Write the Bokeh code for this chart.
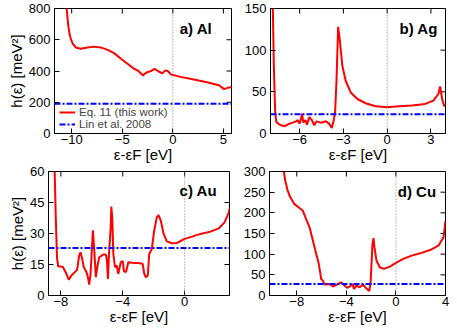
import math
from bokeh.plotting import figure
from bokeh.layouts import column, row
from bokeh.models import Span, Label, Range1d, FixedTicker, Legend, LegendItem
from bokeh.embed import file_html
from bokeh.resources import INLINE

# ---------------- data ----------------
al_x = [-10.5, -10.33, -10.16, -9.93, -9.6, -9.1, -8.46, -7.8, -7.16, -6.5, -5.85, -5.03, -4.38, -3.9,
        -3.4, -2.97, -2.6, -2.1, -1.8, -1.47, -1.05, -0.72, -0.5, -0.17, 0.65, 1.96, 3.26, 4.57, 5.06, 5.55, 5.8]
al_y = [800, 684, 621, 579, 551, 543, 551, 556, 551, 537, 516, 474, 442, 417,
        400, 372, 390, 402, 413, 400, 385, 404, 400, 377, 364, 347, 330, 309, 284, 295, 296]
ag_x = [-7.84, -7.77, -7.68, -7.6, -7.38, -7.04, -6.7, -6.47, -6.25, -6.13, -6.02, -5.9, -5.84, -5.75,
        -5.61, -5.5, -5.34, -5.16, -5.0, -4.84, -4.55, -4.2, -3.98, -3.8, -3.69, -3.57, -3.48, -3.36,
        -3.25, -3.07, -2.84, -2.5, -2.04, -1.48, -0.8, 0.0, 0.8, 1.7, 2.6, 3.17, 3.51, 3.63, 3.79, 3.92, 4.0]
ag_y = [150, 80.9, 25.7, 13.8, 10.7, 8.7, 11.8, 13, 14.6, 16, 11.8, 17.8, 23.7, 13,
        16, 10.7, 19.7, 16, 9.9, 14.6, 13, 14.6, 11.8, 6.7, 13.8, 25.7, 61, 128,
        112.5, 81, 63, 49.3, 41.4, 36.3, 32.8, 31.6, 32.8, 33.5, 35.5, 39.4, 47.4, 56.4, 39.4, 32.8, 34]
au_x = [-8.4, -8.33, -8.25, -8.18, -7.97, -7.86, -7.64, -7.49, -7.32, -7.1, -6.95, -6.82, -6.73, -6.62,
        -6.52, -6.34, -6.23, -6.17, -6.08, -6.0, -5.93, -5.84, -5.74, -5.65, -5.52, -5.26, -5.09, -5.02,
        -4.96, -4.89, -4.78, -4.74, -4.68, -4.61, -4.5, -4.39, -4.29, -4.13, -4.0, -3.92, -3.79, -3.64,
        -3.42, -2.88, -2.71, -2.62, -2.51, -2.38, -2.29, -2.12, -1.97, -1.8, -1.69, -1.54, -1.36, -1.15,
        -0.82, -0.5, 0.0, 0.48, 1.02, 1.67, 2.21, 2.58, 2.86, 2.92]
au_y = [60, 37.8, 18.5, 14.2, 14, 13.7, 10.5, 7.6, 9.7, 11.3, 12.4, 19.3, 20.9, 17.7,
        13.7, 11.3, 8, 5.3, 10.5, 21.7, 31.5, 21.7, 8.9, 13.7, 18.5, 19.8, 19.8, 16.9,
        8, 20.1, 33, 43, 37.8, 20.1, 13.7, 14.5, 10.5, 16.1, 16.6, 11.7, 11.3, 16.1,
        15.8, 15.6, 15.3, 10.8, 8.8, 9.7, 20.1, 22.5, 31.4, 37.8, 38.9, 36.2, 29.8, 26.2,
        25.3, 25.4, 27.4, 28.5, 29.8, 30.9, 32.5, 35.4, 40.2, 42.2]
cu_x = [-9.05, -8.92, -8.73, -8.51, -8.19, -7.78, -7.51, -7.3, -6.97, -6.7, -6.43, -6.22, -6.03, -5.89,
        -5.76, -5.35, -5.08, -4.81, -4.41, -4.14, -3.95, -3.73, -3.51, -3.38, -3.19, -2.92, -2.65, -2.43,
        -2.16, -2.05, -1.97, -1.89, -1.81, -1.73, -1.57, -1.3, -0.97, -0.49, 0.0, 0.59, 1.27, 1.95, 2.76,
        3.43, 3.84, 4.0]
cu_y = [300, 277, 253, 237, 221, 211.5, 205, 189, 165, 133, 100.5, 76, 40, 36,
        26.5, 28, 21.7, 25.7, 32, 24, 18.5, 21.7, 28, 16, 24, 20, 26.5, 18.5,
        10.5, 28, 76, 125, 139, 117, 84.5, 68.4, 64.3, 70, 78.8, 88.5, 96.5, 102, 110,
        120.6, 140.8, 180]

lin_al, lin_ag, lin_au, lin_cu = 190, 23, 23, 28

al_xlim, al_ylim = (-11.7, 5.8), (0, 800)
ag_xlim, ag_ylim = (-8.0, 4.0), (0, 150)
au_xlim, au_ylim = (-8.8, 2.9), (0, 60)
cu_xlim, cu_ylim = (-10.2, 4.0), (0, 300)

al_xt, al_yt = [-10, -5, 0, 5], [0, 200, 400, 600, 800]
ag_xt, ag_yt = [-6, -3, 0, 3], [0, 50, 100, 150]
au_xt, au_yt = [-8, -4, 0], [0, 15, 30, 45, 60]
cu_xt, cu_yt = [-8, -4, 0, 4], [0, 50, 100, 150, 200, 250, 300]

xlabel = "ε-εF [eV]"
ylabel = "h(ε) [meV²]"
FONT = "Liberation Sans"


def make(xs, ys, lin, xlim, ylim, xt, yt, tag, tag_pos, w, h, bl, br, bt, bb, show_ylabel, legend=False):
    p = figure(width=w, height=h, output_backend="svg", toolbar_location=None,
               x_range=Range1d(*xlim), y_range=Range1d(*ylim),
               min_border_left=bl, min_border_right=br, min_border_top=bt, min_border_bottom=bb)
    p.xgrid.visible = False
    p.ygrid.visible = False
    p.outline_line_color = "black"
    p.outline_line_alpha = 1
    p.outline_line_width = 1
    p.background_fill_color = "white"
    p.border_fill_color = "white"
    p.xaxis.ticker = FixedTicker(ticks=xt)
    p.yaxis.ticker = FixedTicker(ticks=yt)
    for ax in (p.xaxis[0], p.yaxis[0]):
        ax.major_tick_in = 5
        ax.major_tick_out = 0
        ax.minor_tick_in = 0
        ax.minor_tick_out = 0
        ax.major_tick_line_color = "black"
        ax.axis_line_color = "black"
        ax.major_label_text_font = FONT
        ax.major_label_text_font_size = "13px"
        ax.major_label_text_color = "black"
        ax.axis_label_text_font = FONT
        ax.axis_label_text_font_size = "15px"
        ax.axis_label_text_font_style = "normal"
        ax.axis_label_text_color = "black"
    p.xaxis.major_label_standoff = 1
    p.xaxis.axis_label_standoff = -1
    p.yaxis.major_label_standoff = 4
    p.yaxis.axis_label_standoff = 1
    p.xaxis.axis_label = xlabel
    if show_ylabel:
        p.yaxis.axis_label = ylabel

    # mirrored inward ticks on top and right edges (markers clipped by frame)
    p.scatter(xt, [ylim[1]] * len(xt), marker="dash", size=10, angle=math.pi / 2,
              line_color="black", line_width=1)
    p.scatter([xlim[1]] * len(yt), yt, marker="dash", size=10,
              line_color="black", line_width=1)

    p.add_layout(Span(location=0, dimension="height", line_color="gray",
                      line_dash="1 2", line_width=1))
    r1 = p.line(xs, ys, line_color="#ff0000", line_width=2)
    r2 = p.line(list(xlim), [lin, lin], line_color="#0000ff", line_width=2, line_dash="6 2 2 2")
    if legend:
        lg = Legend(items=[LegendItem(label="Eq. 11 (this work)", renderers=[r1]),
                           LegendItem(label="Lin et al. 2008", renderers=[r2])],
                    location=(5, 3), background_fill_alpha=0, border_line_alpha=0,
                    padding=0, spacing=0, margin=0, glyph_width=16, glyph_height=12,
                    label_height=12, label_standoff=4, label_text_font=FONT,
                    label_text_font_size="11.5px")
        p.add_layout(lg, "center")
    p.add_layout(Label(x=tag_pos[0], y=tag_pos[1], text=tag, text_align="right",
                       text_baseline="alphabetic", text_font=FONT, text_font_style="bold",
                       text_font_size="15px", text_color="black"))
    return p


pa = make(al_x, al_y, lin_al, al_xlim, al_ylim, al_xt, al_yt, "a) Al", (3.89, 674),
          232, 165, 54, 1, 8, 31, True, legend=True)
pb = make(ag_x, ag_y, lin_ag, ag_xlim, ag_ylim, ag_xt, ag_yt, "b) Ag", (3.48, 125.5),
          225, 165, 38, 12, 8, 31, False)
pc = make(au_x, au_y, lin_au, au_xlim, au_ylim, au_xt, au_yt, "c) Au", (2.10, 50.7),
          232, 167, 48, 3, 6, 37, True)
pd = make(cu_x, cu_y, lin_cu, cu_xlim, cu_ylim, cu_xt, cu_yt, "d) Cu", (3.24, 251.7),
          225, 167, 37, 12, 6, 37, False)

layout = column(row(pa, pb, spacing=0), row(pc, pd, spacing=0), spacing=0)
open("out.html", "w").write(file_html(layout, INLINE))
